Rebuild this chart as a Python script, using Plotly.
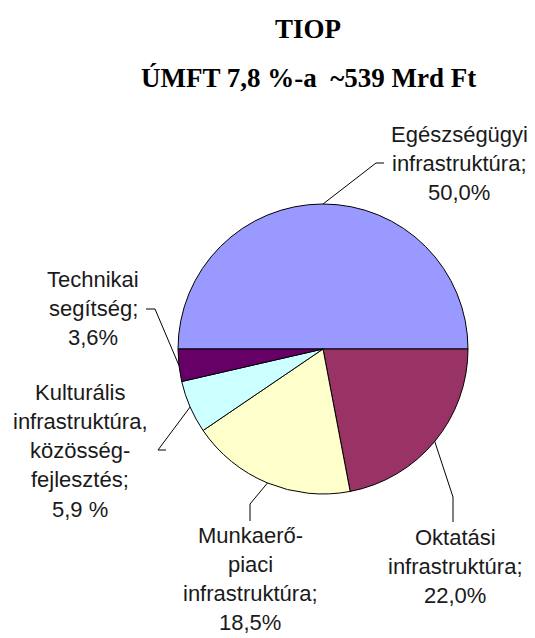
import math
import plotly.graph_objects as go

# the page has an 8px body margin, so the figure is drawn 8px in from the window corner
OFF = 8
W, H = 535 - OFF, 638 - OFF

# data
labels = ["Egészségügyi infrastruktúra", "Oktatási infrastruktúra",
          "Munkaerő-piaci infrastruktúra", "Kulturális infrastruktúra, közösségfejlesztés",
          "Technikai segítség"]
values = [50.0, 22.0, 18.5, 5.9, 3.6]
colors = ["#9999FF", "#993366", "#FFFFCC", "#CCFFFF", "#660066"]
label_lines = [
    ["Egészségügyi", "infrastruktúra;", "50,0%"],
    ["Oktatási", "infrastruktúra;", "22,0%"],
    ["Munkaerő-", "piaci", "infrastruktúra;", "18,5%"],
    ["Kulturális", "infrastruktúra,", "közösség-", "fejlesztés;", "5,9 %"],
    ["Technikai", "segítség;", "3,6%"],
]

# layout (window pixels from top-left)
cx, cy, R = 323, 349, 145
label_pos = [(459, 142), (455, 545), (250, 543), (80, 400), (93, 287)]  # center x, first baseline
line_gap = 29.2
elbows = [
    [(384, 163), (376, 163)],
    [(453, 522), (453, 497)],
    [(250, 521), (250, 504)],
    [(166, 450), (158, 450)],
    [(146, 309), (155, 309)],
]

def px(x):
    return (x - OFF) / W

def py(y):
    return 1 - (y - OFF) / H

fig = go.Figure(go.Pie(
    labels=labels, values=values, sort=False, direction="clockwise", rotation=270,
    marker=dict(colors=colors, line=dict(color="#000000", width=1)),
    textinfo="none", hoverinfo="label+percent",
    domain=dict(x=[px(cx - R), px(cx + R)], y=[py(cy + R), py(cy - R)]),
    showlegend=False,
))

fs = 22
total = sum(values)
cum = 0
for i, v in enumerate(values):
    f = (cum + v / 2) / total
    cum += v
    th = math.radians(270 + f * 360)
    ex, ey = cx + R * math.sin(th), cy - R * math.cos(th)
    pts = elbows[i] + [(ex, ey)]
    path = "M " + " L ".join(f"{px(a)},{py(b)}" for a, b in pts)
    fig.add_shape(type="path", path=path, xref="paper", yref="paper",
                  line=dict(color="#000000", width=1))
    lx, ly = label_pos[i]
    for k, t in enumerate(label_lines[i]):
        base = ly + k * line_gap
        fig.add_annotation(text=t, x=px(lx), y=py(base - 0.347 * fs), xref="paper", yref="paper",
                           xanchor="center", yanchor="middle", showarrow=False,
                           font=dict(family="Liberation Sans, Arial", size=fs, color="#1a1a1a"))

title_lines = ["TIOP", "ÚMFT 7,8 %-a \u00a0~539 Mrd Ft"]
for t, base in zip(title_lines, [38, 87]):
    fig.add_annotation(text="<b>" + t + "</b>", x=px(308), y=py(base - 9.1), xref="paper", yref="paper",
                       xanchor="center", yanchor="middle", showarrow=False,
                       font=dict(family="Liberation Serif, Times New Roman", size=27, color="#000000"))

fig.update_layout(width=W, height=H, margin=dict(l=0, r=0, t=0, b=0),
                  paper_bgcolor="#FFFFFF", plot_bgcolor="#FFFFFF")
fig.write_html("out.html")
